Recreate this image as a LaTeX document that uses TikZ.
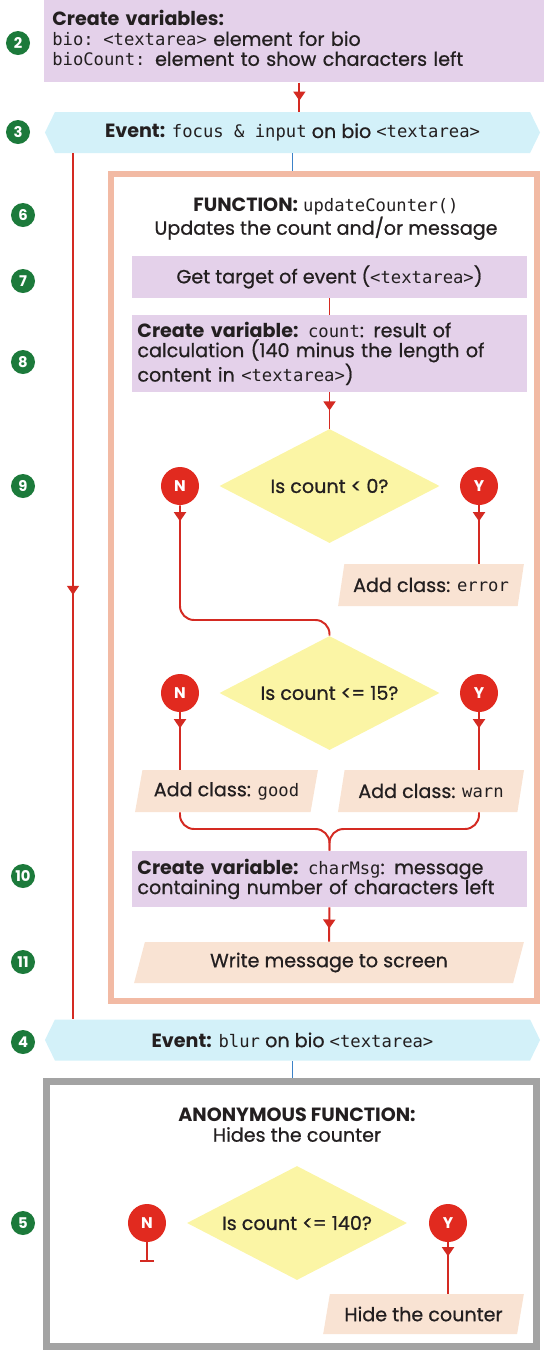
\documentclass[tikz,border=0pt]{standalone}
\usepackage{fontspec}
\setmainfont{Poppins}[UprightFeatures={FakeBold=0.7}]
\setmonofont{DejaVu Sans Mono}[Scale=0.9]
\usetikzlibrary{arrows.meta, shapes.geometric, shapes.symbols, decorations.markings, calc}

\definecolor{lilac}{HTML}{E4D1EA}
\definecolor{sky}{HTML}{D3F1F9}
\definecolor{peach}{HTML}{F9E3D3}
\definecolor{lemon}{HTML}{FBF5A5}
\definecolor{salmon}{HTML}{F2BAA4}
\definecolor{framegray}{HTML}{A3A3A3}
\definecolor{flowred}{HTML}{D42A22}
\definecolor{dotred}{HTML}{E12A1F}
\definecolor{stepgreen}{HTML}{1C7A3B}
\definecolor{tickblue}{HTML}{3C82C8}
\definecolor{ink}{HTML}{231F20}

\newcommand{\cd}[1]{\texttt{#1}}

\begin{document}
\begin{tikzpicture}[
    x=0.025cm, y=-0.025cm,
    every node/.style={font=\fontsize{13.6}{14.2}\selectfont, text=ink},
    action/.style={
        rectangle,
        fill=lilac,
        inner xsep=0.14cm,
        minimum width=9.875cm
    },
    event/.style={
        signal,
        signal to=west and east,
        signal pointer angle=128,
        fill=sky,
        minimum width=12.375cm,
        minimum height=1.025cm
    },
    output/.style={
        trapezium,
        trapezium left angle=76,
        trapezium right angle=104,
        trapezium stretches=true,
        fill=peach,
        minimum height=1.05cm
    },
    decision/.style={diamond, aspect=2, fill=lemon, inner sep=0pt, minimum width=5.5cm, minimum height=2.85cm},
    answer/.style={circle, fill=dotred, text=white, font=\bfseries\fontsize{11}{11}\selectfont, inner sep=0pt, minimum size=0.95cm},
    stepnum/.style={circle, fill=stepgreen, text=white, font=\bfseries\fontsize{10.5}{10.5}\selectfont, inner sep=0pt, minimum size=0.6cm},
    link/.style={draw=flowred, line width=1.4pt},
    tip at/.style={postaction={decorate}, decoration={markings,
        mark=at position #1 with {\arrow[flowred]{Triangle[length=6.5pt, width=8.5pt]}}}},
    tick/.style={draw=tickblue, line width=1.4pt}
]
\clip (0,0) rectangle (544,1350);

% variables and first event
\node[action, anchor=north west, minimum width=12.75cm, minimum height=2.2cm,
      inner xsep=0.2cm, text width=12.35cm, align=left] (vars) at (44,-6)
    {\textbf{Create variables:}\\\cd{bio: <textarea>} element for bio\\\cd{bioCount:} element to show characters left};
\node[event] (ev3) at (292.5,132.5) {\textbf{Event:} \cd{focus \& input} on bio \cd{<textarea>}};
\coordinate (loopx) at (73,600);

% function updateCounter()
\node[draw=salmon, line width=4.3pt, minimum width=10.65cm, minimum height=20.675cm] (fn) at (324,587.5) {};
\node[align=center] (fntitle) at (326,219) {\textbf{FUNCTION:} \cd{updateCounter()}\\Updates the count and/or message};
\node[action, minimum height=1.05cm] (target) at (329.5,277) {Get target of event (\cd{<textarea>})};
\node[action, minimum height=1.925cm, text width=9.6cm, align=left] (count) at (329.5,353.5)
    {\textbf{Create variable:} \cd{count}: result of\\calculation (140 minus the length of\\content in \cd{<textarea>})};

\node[decision] (q1) at (329.5,486) {Is count < 0?};
\node[answer] (n1) at (180,486) {N};
\node[answer] (y1) at (479,486) {Y};
\node[output, minimum width=4.65cm] (error) at (431,585) {Add class: \cd{error}};
\coordinate (join1) at (329.5,620);

\node[decision] (q2) at (329.5,693) {Is count <= 15?};
\node[answer] (n2) at (180,693) {N};
\node[answer] (y2) at (479,693) {Y};
\node[output, minimum width=4.575cm] (good) at (226.5,791) {Add class: \cd{good}};
\node[output, minimum width=4.65cm] (warn) at (431,791) {Add class: \cd{warn}};
\coordinate (join2) at (329.5,829);

\node[action, minimum height=1.4cm, text width=9.6cm, align=left] (charmsg) at (329.5,879)
    {\textbf{Create variable:} \cd{charMsg}: message\\containing number of characters left};
\node[output, minimum width=9.75cm, minimum height=1.025cm] (write) at (329,962.5) {Write message to screen};

% blur event and anonymous function
\node[event] (ev4) at (292.5,1040) {\textbf{Event:} \cd{blur} on bio \cd{<textarea>}};
\node[draw=framegray, line width=5pt, minimum width=12.25cm, minimum height=6.625cm] (anon) at (291.5,1214) {};
\node[align=center] (anontitle) at (297,1125) {\textbf{ANONYMOUS FUNCTION:}\\Hides the counter};
\node[decision] (q3) at (297,1223) {Is count <= 140?};
\node[answer] (n3) at (147,1223) {N};
\node[answer] (y3) at (448,1223) {Y};
\node[output, minimum width=5.025cm, minimum height=1cm] (hide) at (423.5,1314) {Hide the counter};
\coordinate (stop3) at (147,1262);

% step numbers
\node[stepnum] (s2) at (18,43) {2};
\node[stepnum] (s3) at (18,132) {3};
\foreach \n/\y in {6/215, 7/281, 8/362, 9/486, 10/876, 11/962, 4/1042, 5/1223}
    \node[stepnum] (s\n) at (23,\y) {\n};

% connectors
\draw[link, tip at=0.62] (vars.south) -- (vars.south |- ev3.north);
\draw[tick] (ev3.south) -- (ev3.south |- fn.north);
\draw[link, tip at=0.51] (ev3.south -| loopx) -- (ev4.north -| loopx);
\draw[link] (target) -- (count);
\draw[link, tip at=0.5] (count) -- (q1);
\draw[link, rounded corners=10, tip at=0.4cm] (n1.south) |- (join1) -- (q2.north);
\draw[link, tip at=0.4cm] (y1.south) -- (error.north -| y1);
\draw[link, tip at=0.4cm] (n2.south) -- (good.north -| n2);
\draw[link, tip at=0.4cm] (y2.south) -- (warn.north -| y2);
\draw[link, rounded corners=10] (good.south -| n2) |- (join2) -- (charmsg.north);
\draw[link, rounded corners=10] (warn.south -| y2) |- (join2) -- (charmsg.north);
\draw[link, tip at=0.62] (charmsg) -- (write);
\draw[tick] (ev4.south) -- (ev4.south |- anon.north);
\draw[link, -{Bar[width=10pt]}] (n3.south) -- (stop3);
\draw[link, tip at=0.35cm] (y3.south) -- (hide.north -| y3);

\end{tikzpicture}
\end{document}
